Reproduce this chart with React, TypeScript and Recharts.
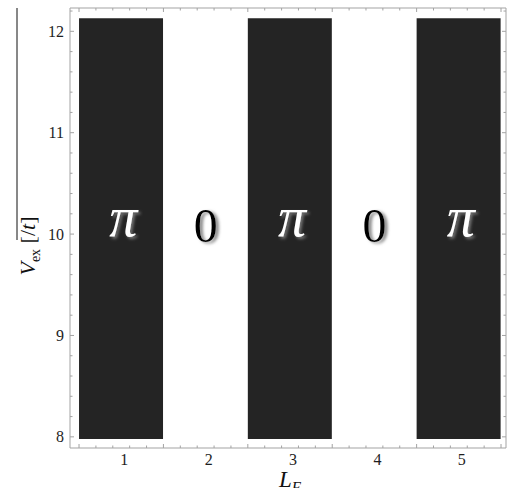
import React from 'react';
import { ComposedChart, Bar, Scatter, XAxis, YAxis } from 'recharts';

// chain length L_F and the ground-state phase found for each
const L_F = [1, 2, 3, 4, 5];
const PHASE = ['π', '0', 'π', '0', 'π'];
// V_ex range covered by each shaded cell, and where the phase label sits
const V_BAND = [7.98, 12.13];
const V_MID = 10;

const X_DOMAIN = [0.393, 5.559];
const V_DOMAIN = [7.89, 12.23];
const X_LABELS = [1, 2, 3, 4, 5];
const X_MINOR = [0.5, 0.7, 0.9, 1.1, 1.3, 1.5, 1.7, 1.9, 2.1, 2.3, 2.5, 2.7, 2.9, 3.1, 3.3, 3.5, 3.7, 3.9, 4.1, 4.3, 4.5, 4.7, 4.9, 5.1, 5.3, 5.5];
const V_LABELS = [8, 9, 10, 11, 12];
const V_MINOR = [8.2, 8.4, 8.6, 8.8, 9.2, 9.4, 9.6, 9.8, 10.2, 10.4, 10.6, 10.8, 11.2, 11.4, 11.6, 11.8, 12.2];

const W = 512;
const H = 488;
const LEFT_W = 70;
const RIGHT_W = 6;
const TOP_H = 8;
const BOTTOM_H = 40;
const PLOT_L = LEFT_W;
const PLOT_R = W - RIGHT_W;
const PLOT_T = TOP_H;
const PLOT_B = H - BOTTOM_H;

const SERIF = '"Liberation Serif", "Times New Roman", serif';
const FRAME = '#a3a3a3';
const CELL = '#242424';

const data = L_F.map((lf, i) => ({
  lf,
  phase: PHASE[i],
  band: PHASE[i] === 'π' ? V_BAND : null,
  mid: V_MID,
}));

const V_TICKS = [...V_MINOR, ...V_LABELS].sort((a, b) => a - b);

const isHalf = (v: number) => Math.abs(v * 2 - Math.round(v * 2)) < 1e-6;

function LeftTick(props: any) {
  const { y, payload } = props;
  const v = payload.value as number;
  const major = V_LABELS.includes(v);
  return (
    <g>
      <line x1={PLOT_L} x2={PLOT_L + (major ? 4 : 2.5)} y1={y} y2={y} stroke={FRAME} />
      {major && (
        <text x={PLOT_L - 6} y={y} dy="0.35em" textAnchor="end" fontSize={16} fill="#1e1e1e" fontFamily={SERIF}>
          {v}
        </text>
      )}
    </g>
  );
}

function RightTick(props: any) {
  const { y, payload } = props;
  const major = V_LABELS.includes(payload.value);
  return <line x1={PLOT_R} x2={PLOT_R - (major ? 4 : 2.5)} y1={y} y2={y} stroke={FRAME} />;
}

function BottomTick(props: any) {
  const { x, payload } = props;
  return (
    <text x={x + 3} y={PLOT_B + 6} dy="0.71em" textAnchor="middle" fontSize={16} fill="#1e1e1e" fontFamily={SERIF}>
      {payload.value}
    </text>
  );
}

// frame ticks along the top and bottom edges
function FrameTick(props: any) {
  const { x, payload } = props;
  const len = isHalf(payload.value) ? 4 : 2.5;
  return (
    <g>
      <line x1={x} x2={x} y1={PLOT_T} y2={PLOT_T + len} stroke={FRAME} />
      <line x1={x} x2={x} y1={PLOT_B} y2={PLOT_B - len} stroke={FRAME} />
    </g>
  );
}

function YTitle() {
  const cx = 27;
  const cy = 246;
  return (
    <g>
      <line x1={17} x2={17} y1={8} y2={240} stroke="#111" strokeWidth={1} />
      <text
        x={cx}
        y={cy}
        transform={`rotate(-90, ${cx}, ${cy})`}
        textAnchor="middle"
        dy="0.35em"
        fontFamily={SERIF}
        fontSize={22}
        fill="#111"
      >
        <tspan fontStyle="italic">V</tspan>
        <tspan fontSize={14} dy={5}>ex</tspan>
        <tspan dy={-5}> [/</tspan>
        <tspan fontStyle="italic">t</tspan>
        <tspan>]</tspan>
      </text>
    </g>
  );
}

function XTitle() {
  return (
    <text x={290} y={487} textAnchor="middle" fontFamily={SERIF} fontSize={23} fill="#111">
      <tspan fontStyle="italic">L</tspan>
      <tspan fontStyle="italic" fontSize={15} dy={5}>F</tspan>
    </text>
  );
}

function PhaseMark(props: any) {
  const { cx, cy, payload } = props;
  const isPi = payload.phase === 'π';
  return (
    <text
      x={cx + (isPi ? 2 : 0)}
      y={cy + (isPi ? 2 : 8)}
      textAnchor="middle"
      fontFamily={SERIF}
      fontStyle={isPi ? 'italic' : 'normal'}
      fontSize={isPi ? 56 : 48}
      fill={isPi ? '#ffffff' : '#000000'}
      filter={isPi ? 'url(#piGlow)' : 'url(#zeroShadow)'}
    >
      {payload.phase}
    </text>
  );
}

const NoShape = () => <g />;

export default function App() {
  return (
    <div style={{ position: 'absolute', left: 0, top: 0, width: W, height: H, background: '#fff' }}>
      <svg width={0} height={0} style={{ position: 'absolute' }}>
        <defs>
          <filter id="piGlow" x="-30%" y="-30%" width="160%" height="160%">
            <feDropShadow dx={2} dy={2} stdDeviation={1.6} floodColor="#777" floodOpacity={1} />
          </filter>
          <filter id="zeroShadow" x="-30%" y="-30%" width="160%" height="160%">
            <feDropShadow dx={3} dy={1.5} stdDeviation={1.4} floodColor="#8a8a8a" floodOpacity={1} />
          </filter>
        </defs>
      </svg>
      <ComposedChart width={W} height={H} data={data} margin={{ top: 0, right: 0, bottom: 0, left: 0 }} barCategoryGap={0}>
        <XAxis
          dataKey="lf"
          type="number"
          domain={X_DOMAIN}
          allowDataOverflow
          ticks={X_LABELS}
          interval={0}
          height={BOTTOM_H}
          axisLine={{ stroke: FRAME }}
          tickLine={false}
          tick={BottomTick}
          label={<XTitle />}
        />
        <XAxis
          xAxisId="top"
          dataKey="lf"
          orientation="top"
          type="number"
          domain={X_DOMAIN}
          allowDataOverflow
          ticks={X_MINOR}
          interval={0}
          height={TOP_H}
          axisLine={{ stroke: FRAME }}
          tickLine={false}
          tick={FrameTick}
        />
        <YAxis
          type="number"
          domain={V_DOMAIN}
          allowDataOverflow
          ticks={V_TICKS}
          interval={0}
          width={LEFT_W}
          axisLine={{ stroke: FRAME }}
          tickLine={false}
          tick={LeftTick}
          label={<YTitle />}
        />
        <YAxis
          yAxisId="right"
          orientation="right"
          type="number"
          domain={V_DOMAIN}
          allowDataOverflow
          ticks={V_TICKS}
          interval={0}
          width={RIGHT_W}
          axisLine={{ stroke: FRAME }}
          tickLine={false}
          tick={RightTick}
        />
        <Bar dataKey="band" fill={CELL} isAnimationActive={false} />
        <Scatter dataKey="mid" shape={PhaseMark} isAnimationActive={false} />
        <Scatter xAxisId="top" yAxisId="right" dataKey="mid" shape={NoShape} isAnimationActive={false} />
      </ComposedChart>
    </div>
  );
}
